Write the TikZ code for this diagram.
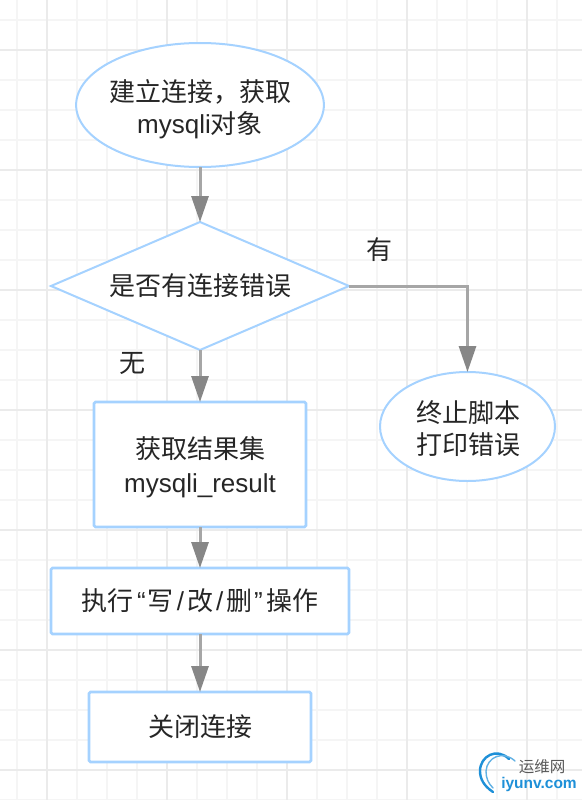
\documentclass[tikz,border=0pt]{standalone}
\usepackage{fontspec}
\usepackage{xcolor}
\setmainfont{Liberation Sans}
\newfontfamily\cjk{Noto Sans CJK SC}
\usetikzlibrary{shapes.geometric, positioning, arrows.meta}
\definecolor{flowblue}{HTML}{A5D2FF}
\definecolor{logoblue}{HTML}{1E90D8}
\begin{document}
\begin{tikzpicture}[
  x=1pt, y=-1pt,
  every node/.style={inner sep=0pt, outer sep=0pt, text=black!85},
  txt/.style={font=\fontsize{26}{32}\selectfont, align=center},
  rbox/.style={txt, draw=flowblue, line width=2.6pt, rectangle, rounded corners=1.5pt, fill=white},
  roundbox/.style={txt, draw=flowblue, line width=2pt, ellipse, fill=white},
  decide/.style={txt, draw=flowblue, line width=2pt, diamond, aspect=2.33, fill=white},
  flow/.style={draw=black!35, line width=3pt, -{Triangle[length=26pt, width=17pt, color=black!47]}}
]
  % 1. Background grid
  \useasboundingbox (0,0) rectangle (582,800);
  \fill[white] (0,0) rectangle (582,800);
  \foreach \x in {17,47,...,587}
    \draw[black!4, line width=1.6pt] (\x,0) -- (\x,800);
  \foreach \y in {20,50,...,800}
    \draw[black!4, line width=1.6pt] (0,\y) -- (582,\y);
  \foreach \x in {47,167,287,407,527}
    \draw[black!8, line width=1.8pt] (\x,0) -- (\x,800);
  \foreach \y in {50,170,290,410,530,650,770}
    \draw[black!8, line width=1.8pt] (0,\y) -- (582,\y);

  % 2. Main column
  \node[roundbox, inner xsep=-3.4pt, minimum width=245pt, minimum height=124pt] (start) at (200,105)
    {\rule{0pt}{31pt}\cjk 建立连接，获取\\mysqli\cjk 对象};
  \node[decide, minimum width=298pt, minimum height=128pt, below=55pt of start] (check)
    {\cjk 是否有连接错误};
  \node[rbox, minimum width=212pt, minimum height=125pt, below=52pt of check] (fetch)
    {\rule{0pt}{27pt}\cjk 获取结果集\\[2pt]mysqli\_result};
  \node[rbox, minimum width=298pt, minimum height=66pt, below=41pt of fetch] (write)
    {{\cjk 执行}\hspace{4pt}“\hspace{2pt}{\cjk 写}\hspace{3pt}/\hspace{3pt}{\cjk 改}\hspace{3pt}/\hspace{3pt}{\cjk 删}\hspace{2pt}”\hspace{4pt}{\cjk 操作}};
  \node[rbox, minimum width=222pt, minimum height=70pt, below=58pt of write] (close)
    {\cjk 关闭连接};

  % 3. Error branch
  \node[roundbox, minimum width=175pt, minimum height=109pt, right=74pt of fetch, yshift=38pt] (stop)
    {\rule{0pt}{27pt}\hspace{2pt}\cjk 终止脚本\\\hspace{2pt}\cjk 打印错误};

  % 4. Edges
  \draw[flow] (start.south) -- (check.north);
  \draw[flow] (check.south) -- (fetch.north);
  \draw[flow] (fetch.south) -- (write.north);
  \draw[flow] (write.south) -- (close.north);
  \draw[flow] (check.east) -| (stop.north);

  % 5. Branch labels
  \node[txt] (yes) at (379,250) {\cjk 有};
  \node[txt] (no) at (132,363) {\cjk 无};

  % 6. Logo in the corner
  \node[font=\fontsize{15.5}{16}\selectfont, text=black!65] (logocn) at (542,767) {\cjk 运维网};
  \node[font=\fontsize{15.5}{16}\selectfont\bfseries, text=logoblue] (logourl) at (539,784) {iyunv.com};
  \draw[logoblue, line width=2.4pt, line cap=round]
    (509,759) .. controls (497,747) and (480,756) .. (480,771) .. controls (480,779) and (484,786) .. (493,792);
  \draw[logoblue!70, line width=1.4pt, line cap=round]
    (515,761) .. controls (503,750) and (487,757) .. (486,771) .. controls (486,778) and (488,783) .. (493,788);
\end{tikzpicture}
\end{document}
